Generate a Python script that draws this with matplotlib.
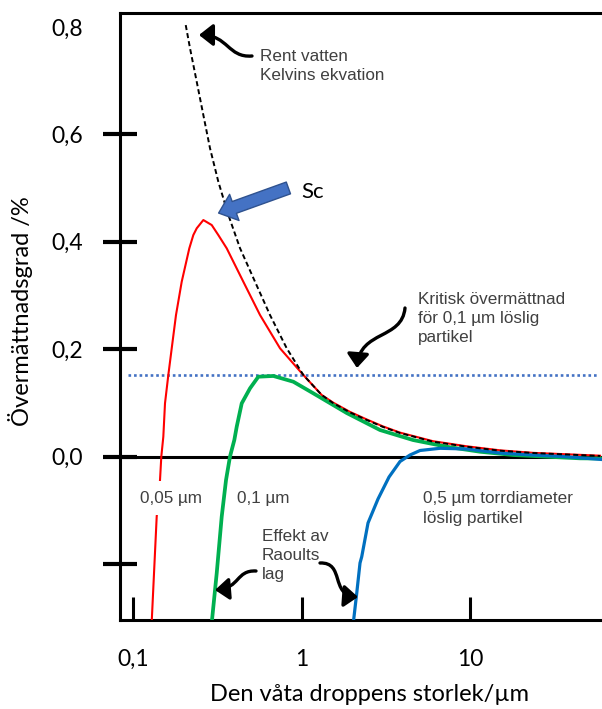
import matplotlib.pyplot as plt
from matplotlib.patches import FancyArrowPatch
from matplotlib.path import Path

# droppstorlek (µm) och övermättnad (%)
kelvin_d = [0.2055, 0.218, 0.2388, 0.2614, 0.2864, 0.3207, 0.3678, 0.4315, 0.5297,
            0.6501, 0.817, 1.025, 1.318, 1.538, 1.941, 2.438, 3.046, 3.842, 6.03,
            9.56, 15.07, 23.66, 59.1]
kelvin_s = [0.8035, 0.760, 0.698, 0.636, 0.574, 0.512, 0.450, 0.388, 0.3255,
            0.2635, 0.2015, 0.1518, 0.1145, 0.0996, 0.082, 0.068, 0.055, 0.0437, 0.0276,
            0.0182, 0.0108, 0.0065, 0.001]

red_d = [0.129, 0.1382, 0.1446, 0.1472, 0.1513, 0.1548, 0.162, 0.1697, 0.1799,
         0.1945, 0.2158, 0.228, 0.2388, 0.2614, 0.2931, 0.3207, 0.3598, 0.4515,
         0.5672, 0.7455, 1.025, 1.318, 1.538, 1.941, 2.438, 3.046, 3.842, 6.03,
         9.56, 15.07, 23.66, 59.1]
red_s = [-0.31, -0.112, -0.0438, 0.0, 0.0369, 0.099, 0.1518, 0.2015, 0.2635,
         0.3255, 0.3877, 0.4125, 0.425, 0.4404, 0.4311, 0.4125, 0.3877, 0.3255,
         0.2635, 0.2015, 0.1518, 0.1145, 0.1005, 0.083, 0.069, 0.056, 0.0445, 0.0285,
         0.019, 0.0115, 0.0068, 0.0015]

green_d = [0.2931, 0.3138, 0.336, 0.3564, 0.3763, 0.3992, 0.4125, 0.4417, 0.4947,
           0.5542, 0.6803, 0.894, 1.17, 1.854, 2.924, 4.588, 7.27, 11.46, 18.0,
           44.97, 60.7]
green_s = [-0.31, -0.2175, -0.112, -0.0438, 0.0, 0.0307, 0.0555, 0.099, 0.127,
           0.1486, 0.150, 0.1393, 0.118, 0.081, 0.0493, 0.0307, 0.0182, 0.0089, 0.0028,
           -0.0034, -0.0037]

blue_d = [2.029, 2.126, 2.224, 2.277, 2.481, 2.844, 3.306, 3.842, 4.405, 5.05,
          6.637, 9.56, 15.07, 23.66, 35.78, 60.7]
blue_s = [-0.31, -0.2547, -0.1983, -0.1866, -0.1238, -0.0791, -0.0382, -0.0093,
          0.0028, 0.0112, 0.0153, 0.014, 0.0065, 0.0028, 0.0, -0.0056]

crit_s = 0.1515
crit_span = [0.093, 57.0]

yticks = [-0.2, 0.0, 0.2, 0.4, 0.6, 0.8]
ylabels = ['', '0,0', '0,2', '0,4', '0,6', '0,8']
xticks = [0.1, 1, 10]
xlabels = ['0,1', '1', '10']

W, H = 602, 709
fig = plt.figure(figsize=(W / 100, H / 100), dpi=100)
ax = fig.add_axes([120 / W, 1 - 620 / H, 1 - 120 / W, (620 - 13) / H])


def px(x, y):
    # referensbildens pixlar -> figurkoordinater
    return (x / W, 1 - y / H)


ax.axhline(0, color='black', lw=2.2, zorder=1)
ax.hlines(crit_s, crit_span[0], crit_span[1], color='#4472C4', lw=1.9,
          linestyle=(0, (1, 1.1)), zorder=2)
ax.plot(red_d, red_s, color='#FF0000', lw=1.5, zorder=3)
ax.plot(green_d, green_s, color='#00B050', lw=2.7, zorder=3)
ax.plot(blue_d, blue_s, color='#0070C0', lw=2.3, zorder=3)
ax.plot(kelvin_d, kelvin_s, color='black', lw=1.4, linestyle=(0, (2.6, 1.6)), zorder=4)

ax.set_xscale('log')
ax.set_xlim(0.0837, 60.7)
ax.set_ylim(-0.3045, 0.826)
ax.minorticks_off()
ax.set_xticks(xticks)
ax.set_xticklabels(xlabels)
ax.set_yticks(yticks)
ax.set_yticklabels(ylabels)

for s in ['left', 'top', 'bottom']:
    ax.spines[s].set_linewidth(2.2)
ax.spines['right'].set_visible(False)

ax.tick_params(axis='y', direction='inout', length=25, width=3, pad=14, labelsize=16.5)
ax.tick_params(axis='x', direction='in', length=16.5, width=2.2, pad=21, labelsize=16.5)
for lab in ax.get_xticklabels() + ax.get_yticklabels():
    lab.set_fontfamily('Lato')
ax.yaxis.get_major_ticks()[-1].tick1line.set_visible(False)

fig.text(*px(21, 311), 'Övermättnadsgrad /%', fontsize=17, family='Lato',
         rotation=90, ha='center', va='center')
ax.set_xlabel('Den våta droppens storlek/µm', fontsize=17, family='Lato')
ax.xaxis.set_label_coords(0.5166, -0.105)

note = dict(family='Liberation Sans', size=12.3, color='#404040', ha='left',
            va='center', linespacing=1.35)
fig.text(*px(260, 66), 'Rent vatten\nKelvins ekvation', **note)
fig.text(*px(418, 318.5), 'Kritisk övermättnad\nför 0,1 µm löslig\npartikel', **note)
fig.text(*px(262, 555.5), 'Effekt av\nRaoults\nlag', **note)
fig.text(*px(423, 508.5), '0,5 µm torrdiameter\nlöslig partikel', **note)
fig.text(*px(140, 498), '0,05 µm', bbox=dict(fc='white', ec='none', pad=7), **note)
fig.text(*px(237, 498), '0,1 µm', **note)
fig.text(*px(301, 192), 'Sc', family='Lato', size=16, color='black', ha='left', va='center')

# böjda pilar
arrows = [
    [(252, 56), (228, 58), (228, 35), (199, 35)],
    [(405, 308), (402, 340), (360, 330), (357, 368)],
    [(256, 571), (236, 570), (240, 588), (215, 590)],
    [(320, 563), (345, 562), (330, 595), (358, 597)],
]
for pts in arrows:
    verts = [px(*p) for p in pts]
    path = Path(verts, [Path.MOVETO, Path.CURVE4, Path.CURVE4, Path.CURVE4])
    fig.add_artist(FancyArrowPatch(path=path, transform=fig.transFigure,
                                   arrowstyle='-|>,head_length=0.7,head_width=0.55',
                                   mutation_scale=12, lw=2.4, color='black'))

fig.add_artist(FancyArrowPatch(px(291, 187), px(216, 214), transform=fig.transFigure,
                               arrowstyle='simple,head_length=0.6,head_width=1.0,tail_width=0.45',
                               mutation_scale=20, fc='#4472C4', ec='#2F528F', lw=1))

fig.savefig('out.png', dpi=100)
